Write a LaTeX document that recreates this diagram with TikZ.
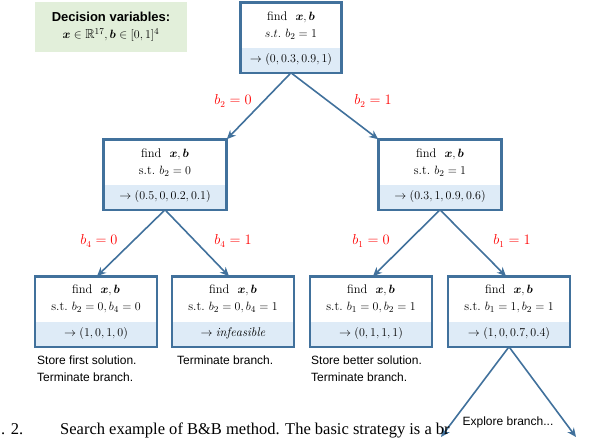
\documentclass[tikz,border=0pt]{standalone}
\usepackage{amsmath,amssymb,bm}
\usepackage{fontspec}
\setmainfont{Latin Modern Roman}
\newfontfamily\arialf{Liberation Sans}
\newfontfamily\timesf{Liberation Serif}
\usetikzlibrary{arrows.meta}
\definecolor{bdr}{RGB}{65,113,156}
\definecolor{lowf}{RGB}{222,235,247}
\definecolor{grn}{RGB}{226,239,218}
\tikzset{
 box/.style={draw=bdr,line width=1.6pt,fill=white,minimum width=#1,minimum height=69pt,inner sep=0pt},
 low/.style={fill=lowf,minimum width=#1,minimum height=24pt,inner sep=0pt,anchor=south},
 txt/.style={font=\fontsize{12.5}{17}\selectfont,align=center},
 lbl/.style={text=red,font=\fontsize{13.5}{16}\selectfont},
 note/.style={font=\arialf\fontsize{12}{16.5}\selectfont,align=left,anchor=north west,inner sep=0pt},
 conn/.style={draw=bdr,line width=1.6pt,-{Stealth[length=9pt,width=8pt]}}
}
\newcommand{\bbox}[6]{%
 \node[box=#4] (#1) at (#2,#3) {};
 \node[low=#4-1.6pt] (#1l) at ([yshift=0.8pt]#1.south) {};
 \draw[draw=bdr,line width=1.6pt] (#1.north west) rectangle (#1.south east);
 \node[txt] (#1t) at ([yshift=-23pt]#1.north) {$\text{find}\ \ \bm{x},\bm{b}$\\#5};
 \node[txt] (#1r) at (#1l) {#6};
}
\begin{document}
\begin{tikzpicture}[x=1pt,y=-1pt]
\useasboundingbox (0,0) rectangle (610,440);
\clip (0,0) rectangle (610,440);
\node[fill=grn,minimum width=152pt,minimum height=50pt,align=center,inner sep=0pt] (dv) at (111,27)
 {{\arialf\bfseries\fontsize{13}{15}\selectfont Decision variables:}\\[5pt]{\fontsize{13}{15}\selectfont$\bm{x}\in\mathbb{R}^{17},\bm{b}\in[0,1]^4$}};
\bbox{r}{291}{37.5}{100pt}{$s.t.\ b_2=1$}{$\to(0,0.3,0.9,1)$}
\bbox{a}{165}{174.5}{122pt}{s.t.\ $b_2=0$}{$\to(0.5,0,0.2,0.1)$}
\bbox{b}{440}{174.5}{122pt}{s.t.\ $b_2=1$}{$\to(0.3,1,0.9,0.6)$}
\bbox{c}{96}{311.5}{121pt}{s.t.\ $b_2=0,b_4=0$}{$\to(1,0,1,0)$}
\bbox{d}{233}{311.5}{121pt}{s.t.\ $b_2=0,b_4=1$}{$\to\mathit{infeasible}$}
\bbox{e}{371}{311.5}{121pt}{s.t.\ $b_1=0,b_2=1$}{$\to(0,1,1,1)$}
\bbox{f}{509}{311.5}{121pt}{s.t.\ $b_1=1,b_2=1$}{$\to(1,0,0.7,0.4)$}
\draw[conn] (r.south) -- (a.north east);
\draw[conn] (r.south) -- (b.north west);
\draw[conn] (a.south) -- ([xshift=1pt]c.north);
\draw[conn] (a.south) -- ([xshift=-4pt]d.north);
\draw[conn] (b.south) -- ([xshift=2pt]e.north);
\draw[conn] (b.south) -- ([xshift=-3pt]f.north);
\coordinate (g1) at (441,437);
\coordinate (g2) at (576,437);
\draw[conn] (f.south) -- (g1);
\draw[conn] (f.south) -- (g2);
\node[lbl] (l1) at (233,101) {$b_2=0$};
\node[lbl] (l2) at (373,101) {$b_2=1$};
\node[lbl] (l3) at (99,241) {$b_4=0$};
\node[lbl] (l4) at (233,241) {$b_4=1$};
\node[lbl] (l5) at (371,241) {$b_1=0$};
\node[lbl] (l6) at (512,241) {$b_1=1$};
\node[note] (n1) at (37,356) {Store first solution.\\Terminate branch.};
\node[note] (n2) at (177,356) {Terminate branch.};
\node[note] (n3) at (311,356) {Store better solution.\\Terminate branch.};
\node[font=\arialf\fontsize{12}{14}\selectfont] (n4) at (508,422) {Explore branch...};
\node[font=\timesf\fontsize{16.5}{19}\selectfont,anchor=base west,inner sep=0pt] (cap0) at (1,434) {. 2.};
\node[font=\timesf\fontsize{16.5}{19}\selectfont,anchor=base west,inner sep=0pt] (cap) at (60,434) {Search example of B\&B method. The basic strategy is a br};
\end{tikzpicture}
\end{document}
